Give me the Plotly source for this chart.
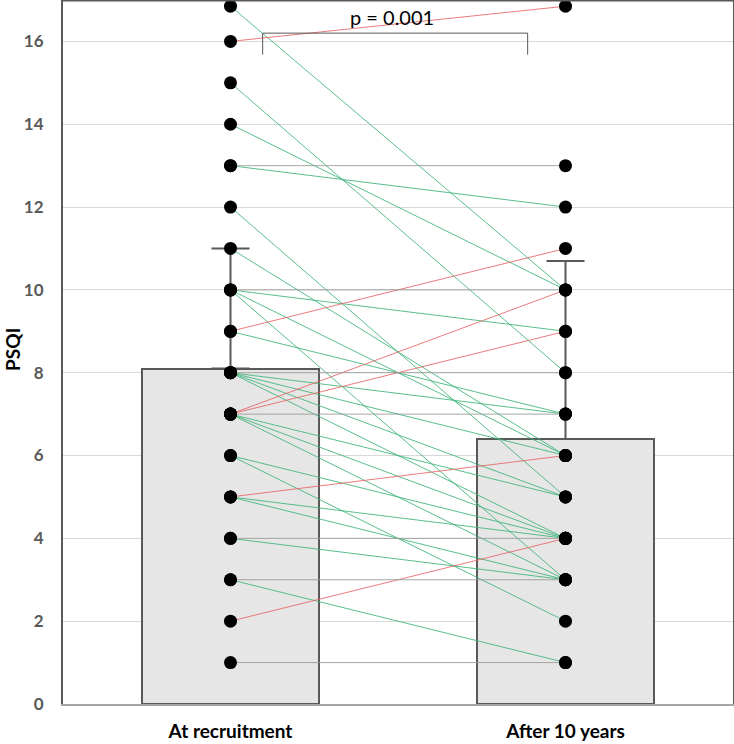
import plotly.graph_objects as go

# ---- data ----
categories = ["At recruitment", "After 10 years"]
mean_psqi = [8.1, 6.4]
sd_upper = [2.9, 4.3]
# paired PSQI scores (one entry per participant)
recruit = [16.85, 16, 15, 14, 13, 13, 12, 11, 10, 10, 10, 10, 9, 9, 8, 8, 8, 8, 8,
           7, 7, 7, 7, 7, 7, 6, 6, 5, 5, 5, 4, 4, 3, 3, 2, 1]
after10 = [10, 16.85, 8, 10, 13, 12, 5, 6, 10, 9, 6, 3, 11, 7, 8, 7, 6, 5, 4,
           10, 9, 7, 5, 4, 3, 4, 2, 6, 4, 3, 4, 3, 3, 1, 4, 1]
y_ticks = [0, 2, 4, 6, 8, 10, 12, 14, 16]
p_text = "p = 0.001"

DARK = "#595959"
FONT = "Lato"

fig = go.Figure()

# bars with upper SD error bars
fig.add_trace(go.Bar(
    x=[0, 1], y=mean_psqi, width=0.53,
    marker=dict(color="#e6e6e6", line=dict(color=DARK, width=2)),
    error_y=dict(type="data", array=sd_upper, arrayminus=[0, 0], symmetric=False,
                 color=DARK, thickness=2, width=19),
    hoverinfo="skip",
))

# paired lines grouped by direction of change
groups = {"down": ([], [], "rgba(60,180,120,0.85)"),
          "up": ([], [], "rgba(230,100,100,0.85)"),
          "same": ([], [], "rgba(150,150,150,0.85)")}
for a, b in zip(recruit, after10):
    key = "down" if b < a else ("up" if b > a else "same")
    xs, ys, _ = groups[key]
    xs += [0, 1, None]
    ys += [a, b, None]
for key, (xs, ys, col) in groups.items():
    fig.add_trace(go.Scatter(x=xs, y=ys, mode="lines",
                             line=dict(color=col, width=1), hoverinfo="skip"))

# dots
fig.add_trace(go.Scatter(
    x=[0] * len(recruit) + [1] * len(after10), y=recruit + after10,
    mode="markers", marker=dict(color="black", size=13), hoverinfo="skip"))

# significance bracket
bx0, bx1, by, bdrop = 0.096, 0.887, 16.2, 0.52
fig.add_shape(type="path",
              path=f"M {bx0},{by - bdrop} L {bx0},{by} L {bx1},{by} L {bx1},{by - bdrop}",
              line=dict(color=DARK, width=1), xref="x", yref="y")
fig.add_annotation(x=(bx0 + bx1) / 2 - 0.01, y=16.6, text=p_text, showarrow=False,
                   font=dict(family=FONT, size=20, color="black"))

# top border
fig.add_shape(type="line", xref="paper", yref="paper", x0=0, x1=1, y0=1, y1=1,
              line=dict(color=DARK, width=3))

# y title
fig.add_annotation(text="<b>PSQI</b>", xref="paper", yref="paper", x=0, y=0.503,
                   xshift=-50, xanchor="center", yanchor="middle",
                   textangle=-90, showarrow=False,
                   font=dict(family=FONT, size=19, color="black"))

fig.update_layout(
    width=734, height=744,
    margin=dict(l=63, r=1, t=0, b=40),
    plot_bgcolor="white", paper_bgcolor="white",
    showlegend=False, bargap=0,
    xaxis=dict(range=[-0.5, 1.5], tickvals=[0, 1], ticktext=categories,
               tickfont=dict(family=FONT, size=19, color="black", weight="bold"),
               showgrid=False, zeroline=False, showline=True, automargin=False,
               linecolor="#a6a6a6", linewidth=2, ticks="", ticklabelstandoff=9),
    yaxis=dict(range=[0, 17], tickvals=y_ticks, automargin=False,
               tickfont=dict(family=FONT, size=17, color=DARK, weight="bold"),
               showgrid=True, gridcolor="#d9d9d9", gridwidth=1, zeroline=False,
               showline=True, mirror=True, linecolor=DARK, linewidth=2,
               ticks="", ticklabelstandoff=14),
)

fig.write_html("out.html", config={"displayModeBar": False},
               post_script="document.body.style.margin='0';document.body.style.overflow='hidden';")
